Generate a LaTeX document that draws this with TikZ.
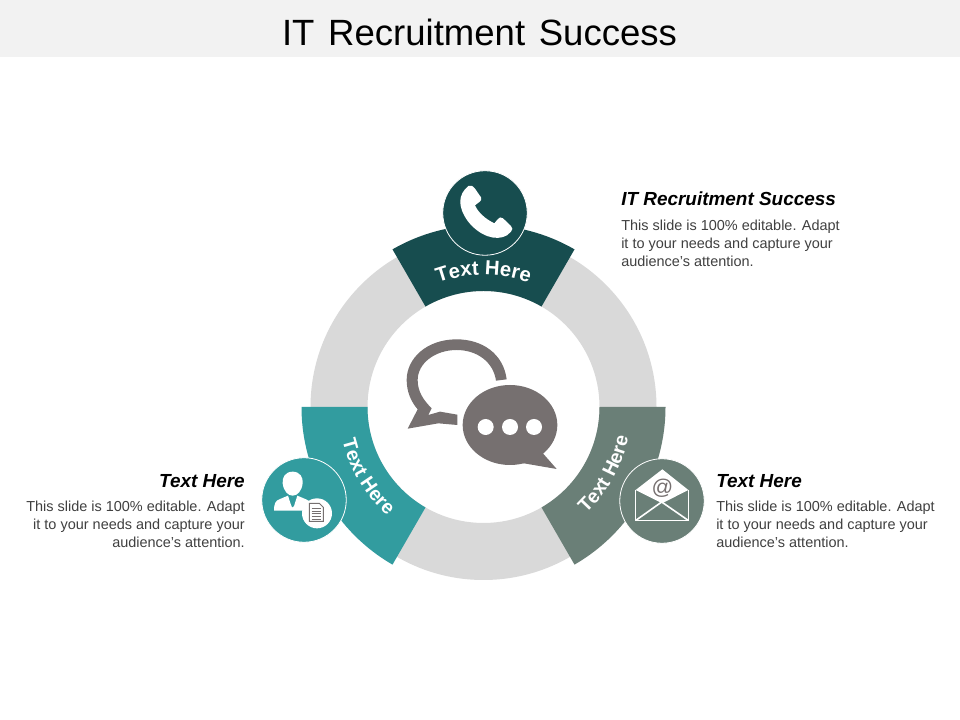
\documentclass[tikz,border=0pt]{standalone}
\usepackage{fontspec}
\setmainfont{Liberation Sans}
\newfontfamily\titlefont[WordSpace=1.35]{Liberation Sans}
\usetikzlibrary{decorations.text}
\definecolor{band}{HTML}{F2F2F2}
\definecolor{ringgray}{HTML}{D9D9D9}
\definecolor{cdark}{HTML}{174D4F}
\definecolor{cteal}{HTML}{329C9F}
\definecolor{csage}{HTML}{6A7F77}
\definecolor{bubble}{HTML}{767070}
\definecolor{bodytxt}{HTML}{404040}
\tikzset{
  bodynote/.style={font=\fontsize{10.85}{13.5}\selectfont,text=bodytxt,inner sep=0pt},
  headnote/.style={font=\fontsize{14.2}{16}\selectfont\bfseries\itshape,text=black,inner sep=0pt},
  badge/.style={circle,minimum size=84.5*0.75pt,inner sep=0pt,draw=white,line width=0.6pt},
  arctext/.style={decorate,decoration={text along path,text align=center,
     text={|\fontsize{15.2}{16}\selectfont\bfseries\color{white}|Text Here}}},
  arctextside/.style={decorate,decoration={text along path,text align=center,
     text={|\fontsize{14.6}{16}\selectfont\bfseries\color{white}|Text Here}}},
  zoomA/.style={x=0.25pt,y=-0.25pt},
}
\begin{document}
\begin{tikzpicture}[x=0.75pt,y=0.75pt]
\useasboundingbox (0,0) rectangle (960,720);
\fill[white] (0,0) rectangle (960,720);
\fill[band] (0,663) rectangle (960,720);
\node[font=\fontsize{27.4}{30}\selectfont\titlefont,inner sep=0pt] (title) at (479.5,688) {IT Recruitment Success};
\coordinate (c) at (483.5,313);
% ring
\fill[ringgray,even odd rule] (c) circle[radius=173] (c) circle[radius=116];
% segments
\fill[cdark] ([shift={(60:182)}]c) arc[start angle=60,end angle=120,radius=182] -- ([shift={(120:116)}]c) arc[start angle=120,end angle=60,radius=116] -- cycle;
\fill[cteal] ([shift={(180:182)}]c) arc[start angle=180,end angle=240,radius=182] -- ([shift={(240:116)}]c) arc[start angle=240,end angle=180,radius=116] -- cycle;
\fill[csage] ([shift={(300:182)}]c) arc[start angle=300,end angle=360,radius=182] -- ([shift={(0:116)}]c) arc[start angle=360,end angle=300,radius=116] -- cycle;
% curved labels
\path[arctext] ([shift={(125:132)}]c) arc[start angle=125,end angle=55,radius=132];
\path[arctextside] ([shift={(176:145)}]c) arc[start angle=176,end angle=246,radius=145];
\path[arctextside] ([shift={(296:148)}]c) arc[start angle=296,end angle=366,radius=148];
% badges
\node[badge,fill=cdark] (b1) at (485,507) {};
\node[badge,fill=cteal] (b2) at (304,220) {};
\node[badge,fill=csage] (b3) at (662,219) {};
% phone icon
\begin{scope}[shift={(381,560)},zoomA]
\fill[white] (262,78) .. controls (270,74) and (277,78) .. (282,86) -- (300,112) .. controls (303,118) and (300,123) .. (295,126) -- (282,136)
 .. controls (292,158) and (312,176) .. (340,190) -- (350,178) .. controls (354,172) and (360,170) .. (366,175) -- (390,198) .. controls (396,204) and (395,210) .. (390,215) -- (378,226)
 .. controls (345,245) and (295,228) .. (260,183) .. controls (230,140) and (230,105) .. (262,78) -- cycle;
\end{scope}
% person icon
\begin{scope}[shift={(250,320)},zoomA]
\fill[white] (128,215) .. controls (150,215) and (160,232) .. (158,250) .. controls (155,274) and (142,287) .. (128,287) .. controls (114,287) and (101,274) .. (98,250) .. controls (96,232) and (106,215) .. (128,215) -- cycle;
\fill[white] (72,332) .. controls (72,312) and (76,302) .. (88,298) -- (114,287) -- (124,318) -- (128,292) -- (132,318) -- (142,287) -- (168,298) .. controls (182,303) and (186,312) .. (186,332) -- cycle;
\fill[cteal] (122,292) -- (134,292) -- (132,318) -- (128,322) -- (124,318) -- cycle;
\fill[white] (201,340) circle[radius=45];
\draw[bubble,line width=0.7pt,fill=white] (178,310) -- (208,310) -- (220,322) -- (220,364) -- (178,364) -- cycle;
\foreach \yy in {325,333,341,349,357}{\draw[bubble,line width=0.6pt] (185,\yy) -- (213,\yy);}
\end{scope}
% envelope icon
\begin{scope}[shift={(535,320)},zoomA]
\fill[white] (302,270) -- (382,208) -- (460,270) -- (385,308) -- (378,308) -- cycle;
\draw[white,line width=1.2pt,line join=miter] (302,270) -- (302,362) -- (460,362) -- (460,270);
\draw[white,line width=1.2pt] (304,360) -- (380,306) -- (458,360);
\node[font=\fontsize{16}{16}\selectfont,text=bubble,inner sep=0pt] (at) at (382,265) {@};
\end{scope}
% chat bubbles
\begin{scope}[shift={(395,390)},zoomA]
\fill[bubble] (335,148) .. controls (325,70) and (260,28) .. (185,28) .. controls (95,28) and (35,85) .. (35,150) .. controls (35,185) and (48,215) .. (68,238) -- (38,296) -- (130,280) -- (187,285) -- (187,254) -- (135,245) -- (100,255) -- (110,235) .. controls (85,210) and (68,185) .. (68,150) .. controls (68,100) and (120,60) .. (185,60) .. controls (245,60) and (295,95) .. (303,152) -- cycle;
\fill[bubble] (345,285) ellipse[x radius=142,y radius=120];
\fill[bubble] (435,360) -- (485,417) -- (375,398) -- cycle;
\fill[white] (272,291) circle[radius=24] (345,291) circle[radius=24] (417,291) circle[radius=24];
\end{scope}
% texts
\node[headnote,anchor=base west] (h1) at (621,514) {IT Recruitment Success};
\node[bodynote,anchor=north west,align=left] (t1) at (621,500) {This slide is 100\% editable. Adapt\\it to your needs and capture your\\audience's attention.};
\node[headnote,anchor=base east] (h2) at (245,232) {Text Here};
\node[bodynote,anchor=north east,align=right] (t2) at (245,219) {This slide is 100\% editable. Adapt\\it to your needs and capture your\\audience's attention.};
\node[headnote,anchor=base west] (h3) at (716,232) {Text Here};
\node[bodynote,anchor=north west,align=left] (t3) at (716,219) {This slide is 100\% editable. Adapt\\it to your needs and capture your\\audience's attention.};
\end{tikzpicture}
\end{document}
